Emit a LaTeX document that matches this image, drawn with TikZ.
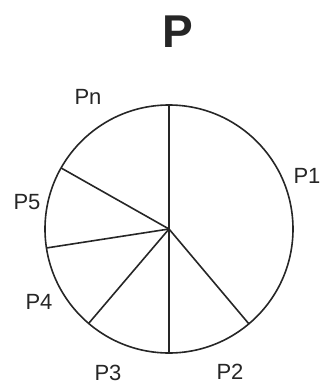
\documentclass[tikz,border=0pt]{standalone}
\usepackage{fontspec}
\setmainfont{Liberation Sans}
\usetikzlibrary{arrows.meta,calc,positioning}

\begin{document}
\begin{tikzpicture}[>=Stealth,x=1pt,y=1pt,
  slice/.style={line width=1.6pt,black!85},
  plabel/.style={font=\fontsize{22}{22}\selectfont,text=black!85,inner sep=0pt}]
\useasboundingbox (0,0) rectangle (322,-384);
\coordinate (O) at (169,-229);
\draw[slice] (O) circle (124);
% spokes between the slices
\foreach \a in {90,-49.9,-90,229.6,188.8,150.5}
  \draw[slice] (O) -- ($(O)+(\a:124)$);
\node[font=\bfseries\fontsize{46}{46}\selectfont,text=black!85,inner sep=0pt] (title) at (178,-32) {P};
\node[plabel] (pn) at (88,-97) {Pn};
\node[plabel] (p1) at (307,-176) {P1};
\node[plabel] (p5) at (27,-202) {P5};
\node[plabel] (p4) at (39,-302) {P4};
\node[plabel] (p3) at (108,-373) {P3};
\node[plabel] (p2) at (230,-372) {P2};
\end{tikzpicture}
\end{document}
